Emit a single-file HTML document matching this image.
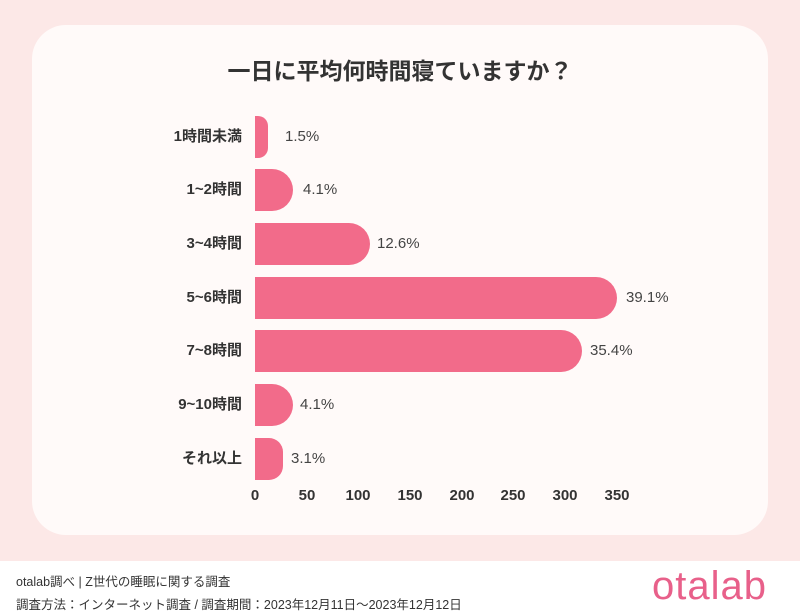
<!DOCTYPE html><html><head><meta charset="utf-8"><style>
body{margin:0;width:800px;height:615px;overflow:hidden;background:#fff;font-family:"Liberation Sans","Noto Sans CJK JP",sans-serif}
.bg{position:absolute;left:0;top:0;width:800px;height:561px;background:#fce8e7}
.card{position:absolute;left:32px;top:25px;width:736px;height:510px;background:#fffaf9;border-radius:34px}
.t{position:absolute;left:0;width:800px;top:52px;text-align:center;font-size:23px;font-weight:bold;color:#333}
.bar{position:absolute;left:255px;height:42px;background:#f26b8a;border-radius:0 21px 21px 0}
.lab{position:absolute;right:558px;font-size:15px;font-weight:bold;color:#333;line-height:20px}
.val{position:absolute;font-size:15px;color:#444;line-height:20px}
.tick{position:absolute;top:487px;font-size:15px;font-weight:bold;color:#333;width:50px;margin-left:-25px;text-align:center}
.f{position:absolute;left:16px;font-size:12.5px;color:#333}
</style></head><body>
<div class="bg"></div><div class="card"></div>
<div class="t">一日に平均何時間寝ていますか？</div>
<div class="bar" style="top:116px;width:13px;border-radius:0 10px 10px 0"></div><div class="lab" style="top:127px">1時間未満</div><div class="val" style="left:285px;top:127px">1.5%</div>
<div class="bar" style="top:169px;width:38px"></div><div class="lab" style="top:180px">1~2時間</div><div class="val" style="left:303px;top:180px">4.1%</div>
<div class="bar" style="top:223px;width:115px"></div><div class="lab" style="top:234px">3~4時間</div><div class="val" style="left:377px;top:234px">12.6%</div>
<div class="bar" style="top:277px;width:362px"></div><div class="lab" style="top:288px">5~6時間</div><div class="val" style="left:626px;top:288px">39.1%</div>
<div class="bar" style="top:330px;width:327px"></div><div class="lab" style="top:341px">7~8時間</div><div class="val" style="left:590px;top:341px">35.4%</div>
<div class="bar" style="top:384px;width:38px"></div><div class="lab" style="top:395px">9~10時間</div><div class="val" style="left:300px;top:395px">4.1%</div>
<div class="bar" style="top:438px;width:28px;border-radius:0 14px 14px 0"></div><div class="lab" style="top:449px">それ以上</div><div class="val" style="left:291px;top:449px">3.1%</div>
<div class="tick" style="left:255px">0</div><div class="tick" style="left:307px">50</div><div class="tick" style="left:358px">100</div><div class="tick" style="left:410px">150</div><div class="tick" style="left:462px">200</div><div class="tick" style="left:513px">250</div><div class="tick" style="left:565px">300</div><div class="tick" style="left:617px">350</div>
<div class="f" style="top:571px">otalab調べ | Z世代の睡眠に関する調査</div>
<div class="f" style="top:594px">調査方法：インターネット調査 / 調査期間：2023年12月11日～2023年12月12日</div>
<div style="position:absolute;left:652px;top:564px;font-size:40px;color:#e8608a;letter-spacing:1px">otalab</div>
</body></html>
